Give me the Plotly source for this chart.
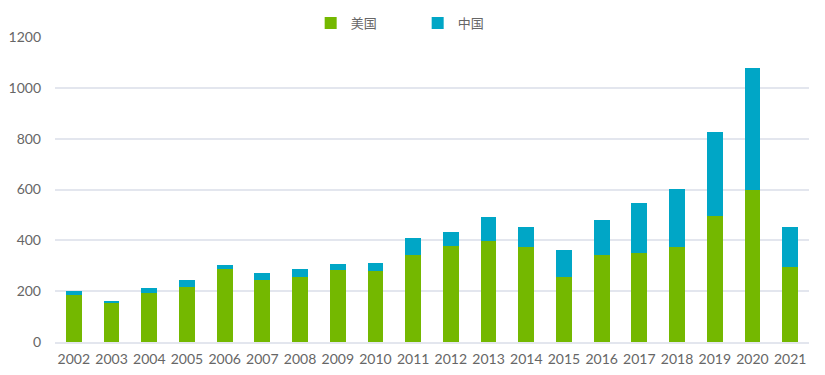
import plotly.graph_objects as go

years = [str(y) for y in range(2002, 2022)]
us = [184, 154, 191, 217, 288, 245, 256, 283, 280, 343, 379, 399, 374, 256, 341, 350, 375, 494, 600, 294]
total = [199, 162, 212, 245, 302, 271, 288, 307, 311, 408, 432, 491, 451, 362, 479, 547, 602, 825, 1078, 451]
china = [t - u for t, u in zip(total, us)]

green = "#74B800"
blue = "#00A6C6"

fig = go.Figure()
fig.add_trace(go.Bar(x=years, y=us, name="美国", marker=dict(color=green, line=dict(width=0))))
fig.add_trace(go.Bar(x=years, y=china, name="中国", marker=dict(color=blue, line=dict(width=0))))

# page body has an 8px margin, so the figure is sized/offset to fill the window
fig.update_layout(
    barmode="stack",
    bargap=0.58,
    width=817, height=367,
    margin=dict(l=47, r=16, t=29, b=33, autoexpand=False),
    paper_bgcolor="white", plot_bgcolor="white",
    font=dict(family="Lato, Noto Sans CJK SC, sans-serif", size=14, color="#666666"),
    legend=dict(orientation="h", x=0.481, xanchor="center", y=1.0, yref="container",
                yanchor="top", bgcolor="rgba(0,0,0,0)",
                font=dict(size=13, family="Noto Sans CJK SC, sans-serif", color="#666666"),
                itemwidth=30, entrywidth=62, traceorder="normal"),
    xaxis=dict(showgrid=False, showline=True, linecolor="#e3e6ee", linewidth=1.5,
               ticks="", automargin=False, ticklabelstandoff=3,
               tickfont=dict(size=14, color="#666666")),
    yaxis=dict(range=[0, 1200], dtick=200, showgrid=True, gridcolor="#e3e6ee", gridwidth=1.5,
               zeroline=False, ticks="", ticklabelstandoff=13, automargin=False,
               tickfont=dict(size=14, color="#666666")),
)

fig.write_html("out.html")
